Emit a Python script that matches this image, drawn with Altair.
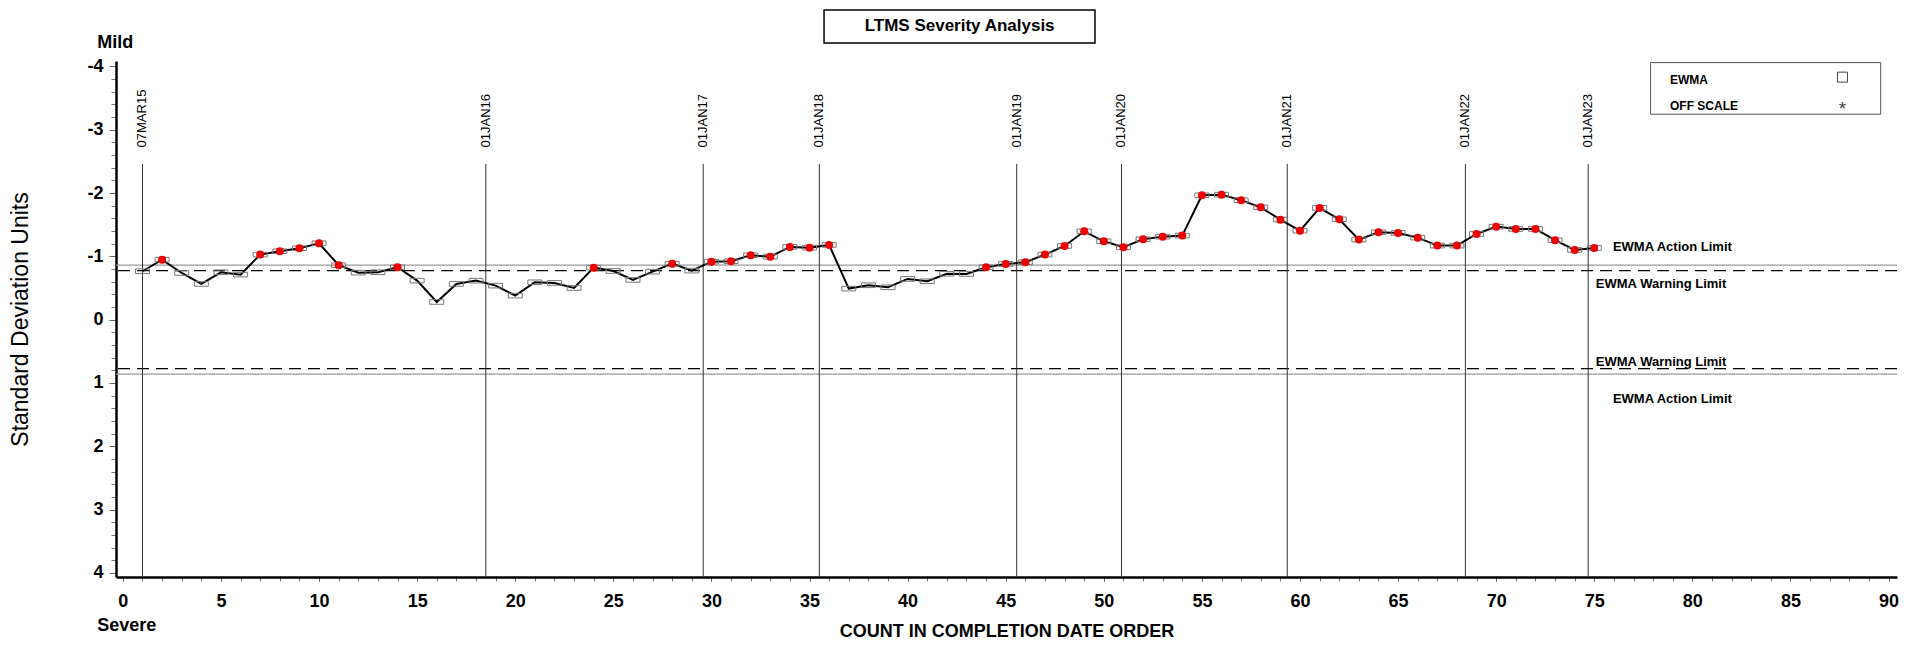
import altair as alt
import pandas as pd

# ---------------- data ----------------
count = list(range(1, 76))
ewma = [-0.764, -0.947, -0.737, -0.564, -0.748, -0.711, -1.027, -1.080, -1.127, -1.206,
        -0.859, -0.742, -0.748, -0.827, -0.616, -0.279, -0.564, -0.616, -0.537, -0.379,
        -0.590, -0.580, -0.500, -0.821, -0.768, -0.627, -0.758, -0.884, -0.774, -0.916,
        -0.921, -1.016, -0.995, -1.148, -1.137, -1.180, -0.490, -0.543, -0.511, -0.643,
        -0.606, -0.725, -0.722, -0.827, -0.880, -0.906, -1.027, -1.164, -1.395, -1.237,
        -1.143, -1.269, -1.311, -1.327, -1.964, -1.974, -1.885, -1.774, -1.579, -1.405,
        -1.764, -1.585, -1.264, -1.380, -1.369, -1.295, -1.169, -1.169, -1.353, -1.469,
        -1.432, -1.432, -1.254, -1.101, -1.132]
beyond_limit = [0, 1, 0, 0, 0, 0, 1, 1, 1, 1,
                1, 0, 0, 1, 0, 0, 0, 0, 0, 0,
                0, 0, 0, 1, 0, 0, 0, 1, 0, 1,
                1, 1, 1, 1, 1, 1, 0, 0, 0, 0,
                0, 0, 0, 1, 1, 1, 1, 1, 1, 1,
                1, 1, 1, 1, 1, 1, 1, 1, 1, 1,
                1, 1, 1, 1, 1, 1, 1, 1, 1, 1,
                1, 1, 1, 1, 1]

date_labels = ["07MAR15", "01JAN16", "01JAN17", "01JAN18", "01JAN19",
               "01JAN20", "01JAN21", "01JAN22", "01JAN23"]
date_pos = [1.0, 18.5, 29.58, 35.5, 45.56, 50.9, 59.35, 68.43, 74.69]

action_limit = 0.86
warning_limit = 0.775
limit_values = [-action_limit, -warning_limit, warning_limit, action_limit]
limit_kind = ["action", "warning", "warning", "action"]
limit_text = ["EWMA Action Limit", "EWMA Warning Limit", "EWMA Warning Limit", "EWMA Action Limit"]

x_ticks_major = list(range(0, 95, 5))
x_ticks_minor = list(range(0, 91, 1))
y_ticks_major = list(range(-4, 5))
y_ticks_minor = [round(-4 + 0.2 * i, 1) for i in range(41)]

# ---------------- layout constants (data units) ----------------
X_DOM = [-0.35, 90.43]
Y_DOM = [-4.085, 4.065]
LINE_TOP = -2.46
LABEL_Y = -2.72
FONT = "Liberation Sans"

df = pd.DataFrame({"count": count, "ewma": ewma, "flag": beyond_limit})
df_red = df[df["flag"] == 1]
df_dates = pd.DataFrame({"pos": date_pos, "label": date_labels,
                         "top": [LINE_TOP] * len(date_pos), "bottom": [Y_DOM[1]] * len(date_pos),
                         "ly": [LABEL_Y] * len(date_pos)})
df_limits = pd.DataFrame({"value": limit_values, "kind": limit_kind})
df_limit_text = pd.DataFrame({
    "x": [75.95, 75.08, 75.08, 75.95],
    "y": [-1.143, -0.568, 0.668, 1.247],
    "text": limit_text,
})

xs = alt.Scale(domain=X_DOM, nice=False, zero=False)
ys = alt.Scale(domain=Y_DOM, nice=False, zero=False, reverse=True)

major_x_axis = alt.Axis(
    values=x_ticks_major, orient="bottom", title="COUNT IN COMPLETION DATE ORDER",
    titleFont=FONT, titleFontSize=18, titleFontWeight="bold", titleColor="black",
    titleY=54, titleBaseline="middle",
    labelFont=FONT, labelFontSize=18, labelFontWeight="bold", labelColor="black",
    labelPadding=11, labelOverlap=False, labelFlush=False,
    tickSize=4, tickColor="#666", tickWidth=1,
    domainColor="black", domainWidth=2.5, grid=False,
)
minor_x_axis = alt.Axis(
    values=x_ticks_minor, orient="bottom", title=None, labels=False, domain=False,
    tickSize=4, tickColor="#777", tickWidth=1, grid=False,
)
major_y_axis = alt.Axis(
    values=y_ticks_major, orient="left", title="Standard Deviation Units",
    titleFont=FONT, titleFontSize=23, titleFontWeight="normal", titleColor="black",
    titleAngle=270, titleX=-96, titleY=258, titleAlign="center", titleBaseline="middle",
    labelExpr="'' + round(datum.value)",
    labelFont=FONT, labelFontSize=18, labelFontWeight="bold", labelColor="black",
    labelPadding=6, labelOverlap=False, labelFlush=False,
    tickSize=7, tickColor="#666", tickWidth=1,
    domainColor="black", domainWidth=2.5, grid=False,
)
minor_y_axis = alt.Axis(
    values=y_ticks_minor, orient="left", title=None, labels=False, domain=False,
    tickSize=5, tickColor="#777", tickWidth=1, grid=False,
)

# limit lines
limits = alt.Chart(df_limits).mark_rule().encode(
    y=alt.Y("value:Q", scale=ys, axis=minor_y_axis),
    color=alt.Color("kind:N", scale=alt.Scale(domain=["action", "warning"], range=["#999999", "black"]), legend=None),
    strokeDash=alt.StrokeDash("kind:N", scale=alt.Scale(domain=["action", "warning"], range=[[1, 0], [12, 7]]), legend=None),
    strokeWidth=alt.value(1.2),
)

# date reference lines
date_rules = alt.Chart(df_dates).mark_rule(color="#333", strokeWidth=1).encode(
    x=alt.X("pos:Q", scale=xs, axis=minor_x_axis),
    y=alt.Y("top:Q", scale=ys, axis=None),
    y2="bottom:Q",
)
date_text = alt.Chart(df_dates).mark_text(
    angle=270, align="left", baseline="middle", font=FONT, fontSize=13, color="black"
).encode(
    x=alt.X("pos:Q", scale=xs, axis=None),
    y=alt.Y("ly:Q", scale=ys, axis=None),
    text="label:N",
)

# main EWMA line
line = alt.Chart(df).mark_line(color="black", strokeWidth=2).encode(
    x=alt.X("count:Q", scale=xs, axis=major_x_axis),
    y=alt.Y("ewma:Q", scale=ys, axis=major_y_axis),
)
rect_shape = "M-1,-0.33L1,-0.33L1,0.33L-1,0.33Z"
squares = alt.Chart(df).mark_point(
    shape=rect_shape, size=196, filled=False, color="#777", strokeWidth=1, opacity=1
).encode(
    x=alt.X("count:Q", scale=xs, axis=None),
    y=alt.Y("ewma:Q", scale=ys, axis=None),
)
dots = alt.Chart(df_red).mark_circle(size=64, color="#ee0000", opacity=1).encode(
    x=alt.X("count:Q", scale=xs, axis=None),
    y=alt.Y("ewma:Q", scale=ys, axis=None),
)

limit_labels = alt.Chart(df_limit_text).mark_text(
    align="left", baseline="middle", font=FONT, fontSize=13, fontWeight="bold", color="black"
).encode(
    x=alt.X("x:Q", scale=xs, axis=None),
    y=alt.Y("y:Q", scale=ys, axis=None),
    text="text:N",
)

# Mild / Severe
df_ends = pd.DataFrame({"x": [-1.31, -1.31], "y": [-4.37, 4.84], "text": ["Mild", "Severe"]})
ends = alt.Chart(df_ends).mark_text(
    align="left", baseline="middle", font=FONT, fontSize=18, fontWeight="bold", color="black"
).encode(
    x=alt.X("x:Q", scale=xs, axis=None),
    y=alt.Y("y:Q", scale=ys, axis=None),
    text="text:N",
)

# Title box
df_title_box = pd.DataFrame({"x": [35.74], "x2": [49.55], "y": [-4.89], "y2": [-4.369]})
title_box = alt.Chart(df_title_box).mark_rect(fill="white", stroke="black", strokeWidth=1.5).encode(
    x=alt.X("x:Q", scale=xs, axis=None), x2="x2:Q",
    y=alt.Y("y:Q", scale=ys, axis=None), y2="y2:Q",
)
df_title = pd.DataFrame({"x": [42.65], "y": [-4.63], "text": ["LTMS Severity Analysis"]})
title_text = alt.Chart(df_title).mark_text(
    align="center", baseline="middle", font=FONT, fontSize=17, fontWeight="bold", color="black"
).encode(
    x=alt.X("x:Q", scale=xs, axis=None),
    y=alt.Y("y:Q", scale=ys, axis=None),
    text="text:N",
)

# Legend box
df_leg_box = pd.DataFrame({"x": [77.87], "x2": [89.6], "y": [-4.06], "y2": [-3.245]})
leg_box = alt.Chart(df_leg_box).mark_rect(fill="white", stroke="#555", strokeWidth=1).encode(
    x=alt.X("x:Q", scale=xs, axis=None), x2="x2:Q",
    y=alt.Y("y:Q", scale=ys, axis=None), y2="y2:Q",
)
df_leg_text = pd.DataFrame({"x": [78.86, 78.86], "y": [-3.78, -3.37], "text": ["EWMA", "OFF SCALE"]})
leg_text = alt.Chart(df_leg_text).mark_text(
    align="left", baseline="middle", font=FONT, fontSize=12, fontWeight="bold", color="black"
).encode(
    x=alt.X("x:Q", scale=xs, axis=None),
    y=alt.Y("y:Q", scale=ys, axis=None),
    text="text:N",
)
df_leg_sym = pd.DataFrame({"x": [87.65], "y": [-3.83]})
leg_sym = alt.Chart(df_leg_sym).mark_point(shape="square", size=100, filled=False, color="#444", strokeWidth=1, opacity=1).encode(
    x=alt.X("x:Q", scale=xs, axis=None),
    y=alt.Y("y:Q", scale=ys, axis=None),
)
df_leg_star = pd.DataFrame({"x": [87.65], "y": [-3.33], "text": ["*"]})
leg_star = alt.Chart(df_leg_star).mark_text(
    align="center", baseline="middle", font=FONT, fontSize=19, color="#444"
).encode(
    x=alt.X("x:Q", scale=xs, axis=None),
    y=alt.Y("y:Q", scale=ys, axis=None),
    text="text:N",
)

chart = alt.layer(
    limits, date_rules, date_text, line, squares, dots, limit_labels, ends,
    title_box, title_text, leg_box, leg_text, leg_sym, leg_star,
).resolve_axis(
    x="independent", y="independent"
).properties(
    width=1781, height=516,
    autosize=alt.AutoSizeParams(type="none"),
    padding={"left": 108, "top": 53, "right": 2, "bottom": 64},
    background="white",
).configure_view(stroke=None)

chart.save("out.html", embed_options={"renderer": "svg", "actions": False})
